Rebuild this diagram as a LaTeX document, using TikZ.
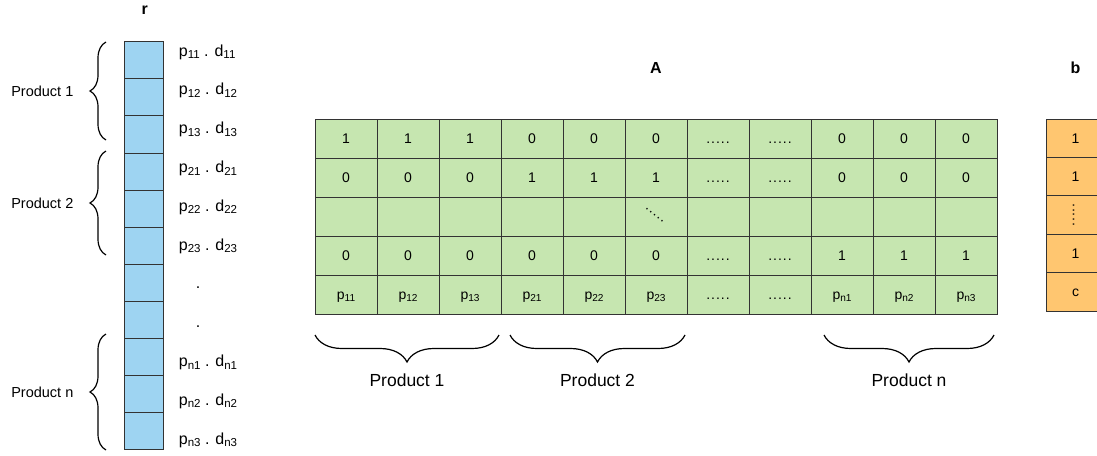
\documentclass[tikz,border=0pt]{standalone}
\usepackage{fontspec}
\setmainfont{Liberation Sans}
\usepackage{graphicx}
\usepackage{xcolor}
\usetikzlibrary{
	positioning,
	decorations.pathreplacing
}

\definecolor{rblue}{HTML}{9ED4F2}
\definecolor{agreen}{HTML}{C6E6B0}
\definecolor{borange}{HTML}{FFC670}
\definecolor{edge}{HTML}{333333}

\newcommand{\cellfnt}{\fontsize{14}{16}\selectfont}
\newcommand{\lblfnt}{\fontsize{16}{19}\selectfont}
\newcommand{\sidefnt}{\fontsize{14.5}{17}\selectfont}
\newcommand{\prodfnt}{\fontsize{17.5}{20}\selectfont}
\newcommand{\headfnt}{\bfseries\fontsize{16}{19}\selectfont}
\newcommand{\fivedots}{.\kern1pt.\kern1pt.\kern1pt.\kern1pt.}
\newcommand{\subidx}[1]{\raisebox{-0.3ex}{\scalebox{0.72}{#1}}}

\begin{document}
\begin{tikzpicture}[x=1pt,y=-1pt,
		rcell/.style={draw=edge,line width=1pt,fill=rblue,minimum width=39pt,minimum height=37.1pt,inner sep=0pt},
		acell/.style={draw=edge,line width=1pt,fill=agreen,minimum width=62pt,minimum height=39pt,inner sep=0pt,font=\cellfnt,text height=10pt,text depth=0pt},
		bcell/.style={draw=edge,line width=1pt,fill=borange,minimum width=59pt,minimum height=38.4pt,inner sep=0pt,font=\cellfnt,text height=10pt,text depth=0pt},
		lbl/.style={font=\lblfnt,inner sep=0pt},
		head/.style={font=\headfnt},
		pbrace/.style={decorate,decoration={brace,amplitude=#1},line width=1.2pt}
	]
	\useasboundingbox (0,0) rectangle (1097,455);

	% vector r
	\foreach \i in {1,...,11}
		\node[rcell] (r\i) at (143.7,{23.15+37.1*\i}) {};
	\node[head,above=23pt of r1,xshift=1pt] (rhead) {r};
	\foreach \i/\k in {1/11,2/12,3/13,4/21,5/22,6/23,9/n1,10/n2,11/n3}
		\node[lbl,anchor=west] (rl\i) at (178.7,{13.2+38.8*\i}) {p\subidx{\k} . d\subidx{\k}};
	\foreach \i in {7,8}
		\node[lbl] (rl\i) at (198,{16.4+38.8*\i}) {.};

	\coordinate (lb1a) at (106,140);
	\coordinate (lb1b) at (106,42);
	\coordinate (lb2a) at (106,255);
	\coordinate (lb2b) at (106,151);
	\coordinate (lb3a) at (106,450);
	\coordinate (lb3b) at (106,334);
	\draw[pbrace=16] (lb1a) -- (lb1b) node[midway,left=28.7pt,font=\sidefnt] (side1) {Product 1};
	\draw[pbrace=16] (lb2a) -- (lb2b) node[midway,left=28.7pt,font=\sidefnt] (side2) {Product 2};
	\draw[pbrace=16] (lb3a) -- (lb3b) node[midway,left=28.7pt,font=\sidefnt] (side3) {Product n};

	% matrix A
	\foreach [count=\j] \v in {1,1,1,0,0,0,\fivedots,\fivedots,0,0,0}
		\node[acell] (a1-\j) at ({284+62*\j},138.5) {\v};
	\foreach [count=\j] \v in {0,0,0,1,1,1,\fivedots,\fivedots,0,0,0}
		\node[acell] (a2-\j) at ({284+62*\j},177.5) {\v};
	\foreach \j in {1,...,11}
		\node[acell] (a3-\j) at ({284+62*\j},216.5) {};
	\foreach [count=\j] \v in {0,0,0,0,0,0,\fivedots,\fivedots,1,1,1}
		\node[acell] (a4-\j) at ({284+62*\j},255.5) {\v};
	\foreach [count=\j] \v in {p\subidx{11},p\subidx{12},p\subidx{13},p\subidx{21},p\subidx{22},p\subidx{23},\fivedots,\fivedots,p\subidx{n1},p\subidx{n2},p\subidx{n3}}
		\node[acell] (a5-\j) at ({284+62*\j},294.5) {\v};
	\node[font=\cellfnt,rotate=-40,inner sep=0pt] (adots) at ([xshift=-1.5pt,yshift=1.5pt]a3-6.center) {\fivedots};
	\node[head,above=41.7pt of a1-6] (ahead) {A};

	\coordinate (bb1a) at (499,335);
	\coordinate (bb1b) at (315,335);
	\coordinate (bb2a) at (685,335);
	\coordinate (bb2b) at (510,335);
	\coordinate (bb3a) at (994,335);
	\coordinate (bb3b) at (824,335);
	\draw[pbrace=27] (bb1a) -- (bb1b) node[midway,below=35pt,font=\prodfnt] (prod1) {Product 1};
	\draw[pbrace=27] (bb2a) -- (bb2b) node[midway,below=35pt,font=\prodfnt] (prod2) {Product 2};
	\draw[pbrace=27] (bb3a) -- (bb3b) node[midway,below=35pt,font=\prodfnt] (prod3) {Product n};

	% vector b
	\foreach [count=\i] \v in {1,1,{},1,c}
		\node[bcell] (b\i) at (1075.5,{99.8+38.4*\i}) {\v};
	\node[font=\cellfnt,rotate=90,inner sep=0pt] (bdots) at ([xshift=-2pt]b3.center) {\fivedots};
	\node[head,above=41pt of b1] (bhead) {b};
\end{tikzpicture}
\end{document}
